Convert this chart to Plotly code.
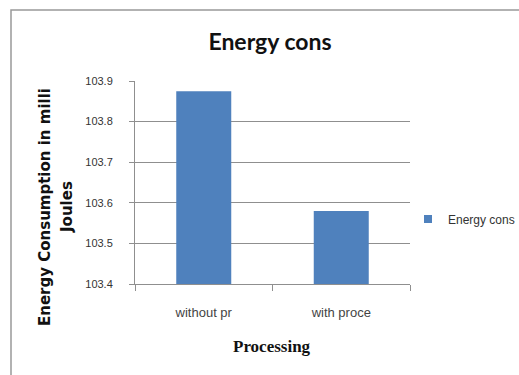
import plotly.graph_objects as go

# Energy consumption per processing mode (milli Joules)
categories = ["without pr", "with proce"]
energy_values = [103.875, 103.58]
series_name = "Energy cons"
y_ticks = [103.4, 103.5, 103.6, 103.7, 103.8, 103.9]

W, H = 519, 375
L, R, T, B = 135, 109, 81, 91
pw, ph = W - L - R, H - T - B
BAR_COLOR = "#4F81BD"


def px_x(x):
    return (x - L) / pw


def px_y(y):
    return (H - B - y) / ph


fig = go.Figure()
fig.add_trace(go.Bar(
    x=categories,
    y=energy_values,
    name=series_name,
    legendgroup="energy",
    marker=dict(color=BAR_COLOR, line=dict(width=0)),
    showlegend=False,
))
# small square legend key for the bar series
fig.add_trace(go.Scatter(
    x=[None], y=[None],
    mode="markers",
    name=series_name,
    legendgroup="energy",
    marker=dict(symbol="square", size=8, color=BAR_COLOR),
    showlegend=True,
    hoverinfo="skip",
))

grid_col = "#8f8f8f"
title_font = dict(family="DejaVu Sans, sans-serif", size=15, color="#111111")
fig.update_layout(
    width=W,
    height=H,
    margin=dict(l=L, r=R, t=T, b=B, autoexpand=False),
    paper_bgcolor="white",
    plot_bgcolor="white",
    bargap=0.6,
    font=dict(family="Liberation Sans, Arial, sans-serif", size=11, color="#333333"),
    title=dict(
        text="<b>Energy cons</b>",
        x=px_x(270), xref="paper", xanchor="center",
        y=1 - 42 / H, yref="container", yanchor="middle",
        font=dict(family="Lato, Open Sans, sans-serif", size=23, color="#111111"),
    ),
    xaxis=dict(
        type="category",
        range=[-0.5, 1.5],
        showgrid=False,
        showline=True, linecolor=grid_col, linewidth=1,
        ticks="outside", ticklen=6, tickcolor=grid_col,
        tickson="boundaries",
        ticklabelstandoff=16,
        tickfont=dict(size=13, color="#444444"),
    ),
    yaxis=dict(
        range=[103.4, 103.9],
        tickvals=y_ticks,
        tickformat=".1f",
        showgrid=True, gridcolor=grid_col, gridwidth=1,
        showline=True, linecolor=grid_col, linewidth=1,
        ticks="outside", ticklen=5, tickcolor=grid_col,
        ticklabelstandoff=14,
        tickfont=dict(size=11, color="#333333"),
        zeroline=False,
    ),
    legend=dict(
        x=px_x(408), y=px_y(219), xanchor="left", yanchor="middle",
        font=dict(size=12, color="#333333"),
        itemwidth=30,
        bgcolor="rgba(0,0,0,0)",
    ),
    shapes=[dict(
        type="rect", xref="paper", yref="paper",
        x0=px_x(11), x1=px_x(560), y0=px_y(400), y1=px_y(10),
        line=dict(color="#999999", width=1.5),
        fillcolor="rgba(0,0,0,0)",
        layer="below",
    )],
    annotations=[
        dict(
            text="<b>Energy Consumption in milli</b>",
            x=px_x(45), y=px_y(207), xref="paper", yref="paper",
            xanchor="center", yanchor="middle",
            textangle=-90, showarrow=False, font=title_font,
        ),
        dict(
            text="<b>Joules</b>",
            x=px_x(67), y=px_y(207), xref="paper", yref="paper",
            xanchor="center", yanchor="middle",
            textangle=-90, showarrow=False, font=title_font,
        ),
        dict(
            text="<b>Processing</b>",
            x=px_x(272), y=px_y(346), xref="paper", yref="paper",
            xanchor="center", yanchor="middle", showarrow=False,
            font=dict(family="Liberation Serif, Times New Roman, serif", size=17, color="#111111"),
        ),
    ],
)

fig.write_html("out.html")
